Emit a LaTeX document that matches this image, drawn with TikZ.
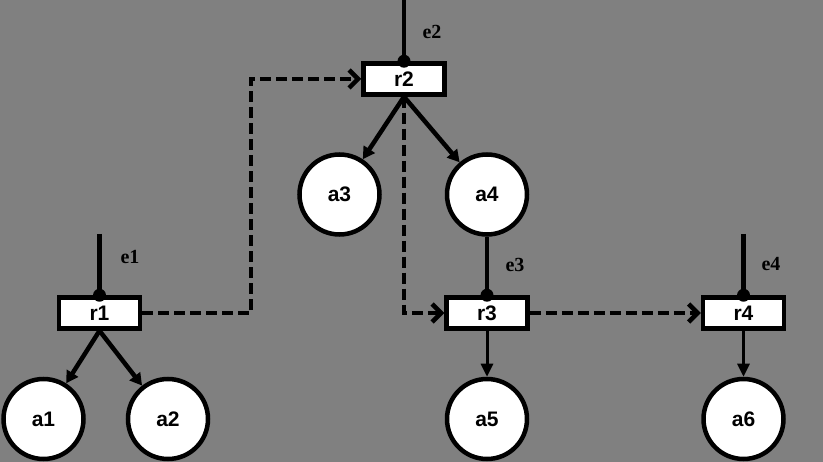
\documentclass[tikz,border=0pt]{standalone}
\usepackage{fontspec}
\setmainfont{Liberation Serif}
\setsansfont{Liberation Sans}
\usetikzlibrary{arrows.meta}
\definecolor{bggray}{RGB}{128,128,128}
\begin{document}
\begin{tikzpicture}[x=1pt, y=-1pt, rel/.style={draw, line width=4.5pt, fill=white, minimum width=81pt, minimum height=31pt, inner sep=0pt, font=\sffamily\bfseries\fontsize{21}{21}\selectfont}, ent/.style={draw, circle, line width=4.5pt, fill=white, minimum size=80pt, inner sep=0pt, font=\sffamily\bfseries\fontsize{21}{21}\selectfont}, lab/.style={font=\rmfamily\bfseries\fontsize{20}{20}\selectfont}, link/.style={line width=4.5pt}, sub/.style={line width=4.5pt, -{Triangle[length=12pt,width=13pt]}}, subthin/.style={line width=3pt, -{Triangle[length=13pt,width=12pt]}}, flow/.style={line width=4.5pt, dash pattern=on 11pt off 5pt, -{Straight Barb[length=9pt,width=18pt]}}, dot/.style={circle, fill=black, inner sep=0pt, minimum size=13pt}]
\useasboundingbox (0,0) rectangle (823,462);
\fill[bggray] (0,0) rectangle (823,462);
\node[rel] (r1) at (99.5,313) {r1};
\node[rel] (r2) at (404,79) {r2};
\node[rel] (r3) at (487,313) {r3};
\node[rel] (r4) at (743.5,313) {r4};
\node[ent] (a1) at (43.5,419) {a1};
\node[ent] (a2) at (168,419) {a2};
\node[ent] (a3) at (339.5,194.5) {a3};
\node[ent] (a4) at (487,194.5) {a4};
\node[ent] (a5) at (487,419) {a5};
\node[ent] (a6) at (743.5,419) {a6};
\coordinate (t1) at (99.5,234);
\coordinate (t2) at (404,0);
\coordinate (t4) at (743.5,234);
\coordinate (k1) at (251,313);
\draw[link] (t1) -- (r1.north);
\draw[link] (t2) -- (r2.north);
\draw[link] (a4.south) -- (r3.north);
\draw[link] (t4) -- (r4.north);
\node[dot] (d1) at (r1.north) {};
\node[dot] (d2) at (r2.north) {};
\node[dot] (d3) at (r3.north) {};
\node[dot] (d4) at (r4.north) {};
\node[lab] (e1) at (130,257) {e1};
\node[lab] (e2) at (432,32) {e2};
\node[lab] (e3) at (515,265) {e3};
\node[lab] (e4) at (771,264) {e4};
\draw[sub] (r1.south) -- (a1);
\draw[sub] (r1.south) -- (a2);
\draw[sub] (r2.south) -- (a3);
\draw[sub] (r2.south) -- (a4);
\draw[subthin] (r3.south) -- (a5);
\draw[subthin] (r4.south) -- (a6);
\draw[flow] (r1.east) -- (k1) |- (r2.west);
\draw[flow] (r2.south) |- (r3.west);
\draw[flow] (r3.east) -- (r4.west);
\end{tikzpicture}
\end{document}
